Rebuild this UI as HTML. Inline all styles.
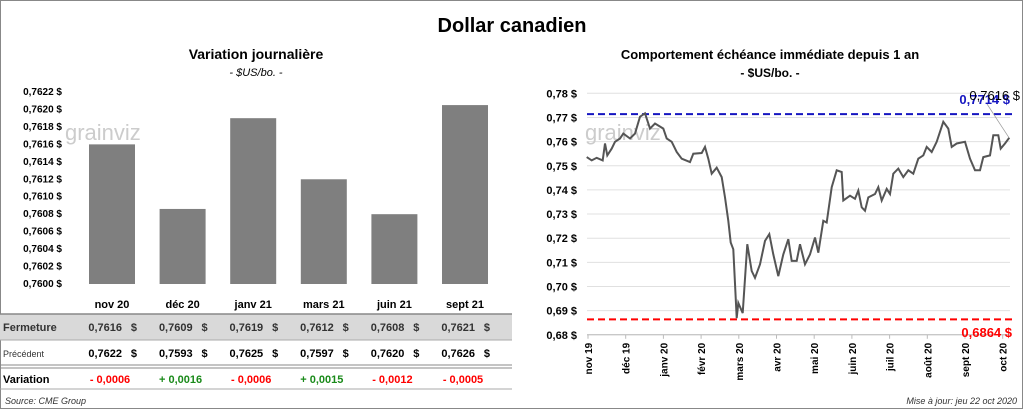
<!DOCTYPE html>
<html><head><meta charset="utf-8"><style>
body{margin:0;width:1024px;height:410px;background:#fff;font-family:"Liberation Sans",sans-serif;overflow:hidden}
svg text{font-family:"Liberation Sans",sans-serif}
</style></head><body>
<svg width="1024" height="410">
<rect x="0.5" y="0.5" width="1022" height="408" fill="#fff" stroke="#888"/>
<text x="512" y="32" text-anchor="middle" font-size="20" font-weight="bold">Dollar canadien</text>
<text x="256" y="59" text-anchor="middle" font-size="14" font-weight="bold">Variation  journalière</text>
<text x="256" y="76" text-anchor="middle" font-size="11" font-style="italic">- $US/bo. -</text>
<text x="770" y="59" text-anchor="middle" font-size="13" font-weight="bold">Comportement échéance immédiate depuis 1 an</text>
<text x="770" y="77" text-anchor="middle" font-size="12" font-weight="bold">- $US/bo. -</text>
<g id="left"></g>
<g id="table"></g>
<g id="right"></g>
<text x="5" y="404" font-size="9" font-style="italic" fill="#333">Source: CME Group</text>
<text x="1017" y="404" text-anchor="end" font-size="9" font-style="italic" fill="#333">Mise à jour: jeu 22 oct 2020</text>
</svg>
<script>
const NS="http://www.w3.org/2000/svg";
const barCats=["nov 20","déc 20","janv 21","mars 21","juin 21","sept 21"];
const barVals=[0.7616,0.76086,0.7619,0.7612,0.7608,0.76205];
const barTicks=[0.7600,0.7602,0.7604,0.7606,0.7608,0.7610,0.7612,0.7614,0.7616,0.7618,0.7620,0.7622];
const closeVals=["0,7616","0,7609","0,7619","0,7612","0,7608","0,7621"];
const prevVals=["0,7622","0,7593","0,7625","0,7597","0,7620","0,7626"];
const varVals=["- 0,0006","+ 0,0016","- 0,0006","+ 0,0015","- 0,0012","- 0,0005"];
const lineVals=[.7536,.7522,.7533,.7522,.7592,.7543,.7571,.7599,.7613,.7633,.7613,.7633,.7703,.7717,.7654,.7675,.7654,.7613,.7599,.7557,.7529,.7515,.7550,.7553,.7578,.7529,.7467,.7492,.7453,.7369,.7272,.7182,.7154,.6869,.6932,.6890,.7175,.7064,.7036,.7092,.7189,.7217,.7133,.7043,.7133,.7196,.7106,.7106,.7175,.7092,.7133,.7203,.7140,.7272,.7265,.7411,.7481,.7474,.7356,.7376,.7363,.7397,.7328,.7314,.7369,.7383,.7411,.7356,.7404,.7383,.7467,.7488,.7453,.7481,.7467,.7529,.7543,.7578,.7557,.7599,.7682,.7654,.7578,.7592,.7599,.7529,.7481,.7481,.7536,.7543,.7626,.7626,.7571,.7592,.7616];
const lineXs=[200,215,230,248,255,262,275,285,300,310,330,345,360,375,390,405,430,440,455,470,485,510,520,545,555,565,575,590,605,615,625,632,640,650,655,668,682,695,705,720,735,748,760,775,790,805,815,830,840,855,870,885,895,910,920,935,950,965,970,990,1005,1015,1025,1035,1045,1065,1075,1085,1100,1110,1120,1135,1150,1165,1180,1195,1210,1220,1235,1250,1270,1285,1295,1310,1335,1350,1365,1380,1390,1410,1420,1435,1442,1455,1468];
const lineTicks=[0.68,0.69,0.70,0.71,0.72,0.73,0.74,0.75,0.76,0.77,0.78];
const months=["nov 19","déc 19","janv 20","févr 20","mars 20","avr 20","mai 20","juin 20","juil 20","août 20","sept 20","oct 20"];
const hiVal=0.7714, loVal=0.6864, lastVal=0.7616;
function mk(p,t,a,txt){const e=document.createElementNS(NS,t);for(const k in a)e.setAttribute(k,a[k]);if(txt!==undefined)e.textContent=txt;p.appendChild(e);return e;}
const fmt=(v,d)=>v.toFixed(d).replace('.',',')+' $';
// left bars
const L=document.getElementById('left');
const ly=v=>284-(v-0.76)/0.0022*192;
barTicks.forEach(t=>{const e=mk(L,'text',{x:62,y:ly(t)+3,'text-anchor':'end','font-size':10,'font-weight':'bold'},fmt(t,4));

});
mk(L,'text',{x:65,y:140,'font-size':22,fill:'#ccc'},'grainviz');
const bx=i=>89+i*70.6;
barVals.forEach((v,i)=>{const r=mk(L,'rect',{x:bx(i),y:ly(v),width:46,height:284-ly(v),fill:'#7f7f7f'});

});
// table
const T=document.getElementById('table');
mk(T,'rect',{x:0,y:314,width:512,height:26,fill:'#d9d9d9'});
mk(T,'line',{x1:0,y1:314,x2:512,y2:314,stroke:'#888','stroke-width':1.5});
mk(T,'line',{x1:0,y1:340,x2:512,y2:340,stroke:'#aaa'});
mk(T,'line',{x1:0,y1:365,x2:512,y2:365,stroke:'#888'});
mk(T,'line',{x1:0,y1:368,x2:512,y2:368,stroke:'#888'});
mk(T,'line',{x1:0,y1:389,x2:512,y2:389,stroke:'#aaa'});
mk(T,'text',{x:3,y:331,'font-size':11,'font-weight':'bold',fill:'#333'},'Fermeture');
mk(T,'text',{x:3,y:357,'font-size':9,fill:'#333'},'Précédent');
mk(T,'text',{x:3,y:383,'font-size':11,'font-weight':'bold'},'Variation');
barCats.forEach((c,i)=>{const cx=bx(i)+23;
const h=mk(T,'text',{x:cx,y:308,'text-anchor':'middle','font-size':11,'font-weight':'bold'},c);


mk(T,'text',{x:cx+10,y:331,'text-anchor':'end','font-size':11,'font-weight':'bold',fill:'#333'},closeVals[i]);
mk(T,'text',{x:cx+25,y:331,'text-anchor':'end','font-size':11,'font-weight':'bold',fill:'#333'},'$');
mk(T,'text',{x:cx+10,y:357,'text-anchor':'end','font-size':11,'font-weight':'bold'},prevVals[i]);
mk(T,'text',{x:cx+25,y:357,'text-anchor':'end','font-size':11,'font-weight':'bold'},'$');
mk(T,'text',{x:cx-2,y:383,'text-anchor':'middle','font-size':11,'font-weight':'bold',fill:varVals[i][0]=='+'?'#1a8a1a':'#f00'},varVals[i]);});
// right line
const R=document.getElementById('right');
const ry=v=>93.3+(0.78-v)/0.01*24.15;
const rx=z=>520+z/3;
lineTicks.forEach(t=>{mk(R,'line',{x1:587,y1:ry(t),x2:1010,y2:ry(t),stroke:'#e0e0e0'});
const e=mk(R,'text',{x:577,y:ry(t)+4,'text-anchor':'end','font-size':11,'font-weight':'bold'},fmt(t,2));

});
mk(R,'line',{x1:587,y1:ry(0.68),x2:1010,y2:ry(0.68),stroke:'#bbb'});
mk(R,'text',{x:585,y:140,'font-size':22,fill:'#ccc'},'grainviz');
months.forEach((m,i)=>{const x=588+i*37.7;mk(R,'line',{x1:x,y1:ry(0.68),x2:x,y2:ry(0.68)+4,stroke:'#bbb'});
const e=mk(R,'text',{x:x+4,y:ry(0.68)+8,'text-anchor':'end','font-size':10,'font-weight':'bold',transform:`rotate(-90 ${x+4} ${ry(0.68)+8})`},m);

});
const hl=mk(R,'line',{x1:587,y1:ry(hiVal),x2:1012,y2:ry(hiVal),stroke:'#1515c0','stroke-width':2,'stroke-dasharray':'7,4'});


const ll=mk(R,'line',{x1:587,y1:ry(loVal),x2:1012,y2:ry(loVal),stroke:'#f00','stroke-width':2,'stroke-dasharray':'7,4'});


const pts=lineVals.map((v,i)=>rx(lineXs[i]).toFixed(1)+','+ry(v).toFixed(1)).join(' ');
const pl=mk(R,'polyline',{points:pts,fill:'none',stroke:'#555','stroke-width':2});


mk(R,'line',{x1:987,y1:104,x2:1009,y2:ry(lastVal),stroke:'#999','stroke-width':0.7});
mk(R,'text',{x:1010,y:104,'text-anchor':'end','font-size':13,'font-weight':'bold',fill:'#1515c0'},fmt(hiVal,4));
mk(R,'text',{x:1020,y:100,'text-anchor':'end','font-size':13,fill:'#000'},fmt(lastVal,4));
mk(R,'text',{x:1012,y:337,'text-anchor':'end','font-size':13,'font-weight':'bold',fill:'#f00'},fmt(loVal,4));
</script>
</body></html>
